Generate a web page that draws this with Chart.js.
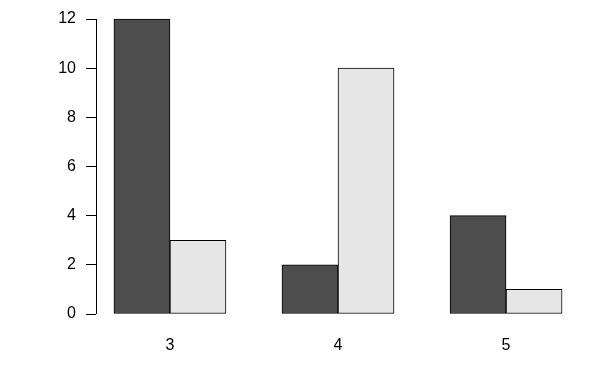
<!DOCTYPE html>
<html>
<head>
<meta charset="utf-8">
<script src="https://cdn.jsdelivr.net/npm/chart.js@4"></script>
<style>
  html, body { margin: 0; padding: 0; background: #fff; }
</style>
</head>
<body>
<canvas id="myChart" width="600" height="375"></canvas>
<script>
var categories = ['3', '4', '5'];
var darkValues = [12, 2, 4];
var lightValues = [3, 10, 1];
var yTicks = [0, 2, 4, 6, 8, 10, 12];

// R barplot(beside=TRUE) puts group i's bars at 2+3i -/+ 0.5
function groupCenter(i) { return 2 + 3 * i; }

// y axis line only spans first to last tick, like R's axis()
var axisLine = {
    id: 'axisLine',
    afterDraw: function(chart) {
        var ctx = chart.ctx;
        var y = chart.scales.y;
        var x = Math.round(chart.chartArea.left) + 0.5;
        ctx.save();
        ctx.strokeStyle = '#000';
        ctx.lineWidth = 1;
        ctx.beginPath();
        ctx.moveTo(x, y.getPixelForValue(yTicks[0]));
        ctx.lineTo(x, y.getPixelForValue(yTicks[yTicks.length - 1]));
        ctx.stroke();
        ctx.restore();
    }
};

var ctx = document.getElementById('myChart').getContext('2d');
var chart = new Chart(ctx, {
    type: 'bar',
    data: {
        datasets: [{
            data: categories.map(function(c, i) { return { x: groupCenter(i) - 0.5, y: darkValues[i] }; }),
            backgroundColor: '#4d4d4d',
            borderColor: '#000',
            borderWidth: 1,
            borderSkipped: false
        }, {
            data: categories.map(function(c, i) { return { x: groupCenter(i) + 0.5, y: lightValues[i] }; }),
            backgroundColor: '#e6e6e6',
            borderColor: '#000',
            borderWidth: 1,
            borderSkipped: false
        }]
    },
    options: {
        responsive: false,
        animation: false,
        grouped: false,
        barPercentage: 1,
        categoryPercentage: 1,
        layout: { padding: { top: 7.2, right: 20, left: 0, bottom: 0 } },
        plugins: { legend: { display: false }, tooltip: { enabled: false } },
        scales: {
            x: {
                type: 'linear',
                offset: false,
                min: 0.68,
                max: 9.32,
                afterBuildTicks: function(s) {
                    s.ticks = categories.map(function(c, i) { return { value: groupCenter(i) }; });
                },
                afterFit: function(s) {
                    s.height = 49.2;
                    s.paddingLeft = 0; s.paddingRight = 0;
                },
                border: { display: false },
                grid: { display: false },
                ticks: {
                    color: '#000',
                    padding: 2,
                    maxRotation: 0,
                    font: { family: "'Liberation Sans', Arial, sans-serif", size: 16 },
                    callback: function(v) {
                        var i = Math.round((v - 2) / 3);
                        return categories[i];
                    }
                }
            },
            y: {
                min: -0.48,
                max: 12.48,
                afterBuildTicks: function(s) {
                    s.ticks = yTicks.map(function(v) { return { value: v }; });
                },
                afterFit: function(s) {
                    s.width = 96;
                    s.paddingTop = 0; s.paddingBottom = 0;
                },
                border: { display: false },
                grid: {
                    drawOnChartArea: false,
                    drawTicks: true,
                    tickLength: 10,
                    color: '#000'
                },
                ticks: {
                    color: '#000',
                    padding: 10,
                    font: { family: "'Liberation Sans', Arial, sans-serif", size: 16 }
                }
            }
        }
    },
    plugins: [axisLine]
});
</script>
</body>
</html>
